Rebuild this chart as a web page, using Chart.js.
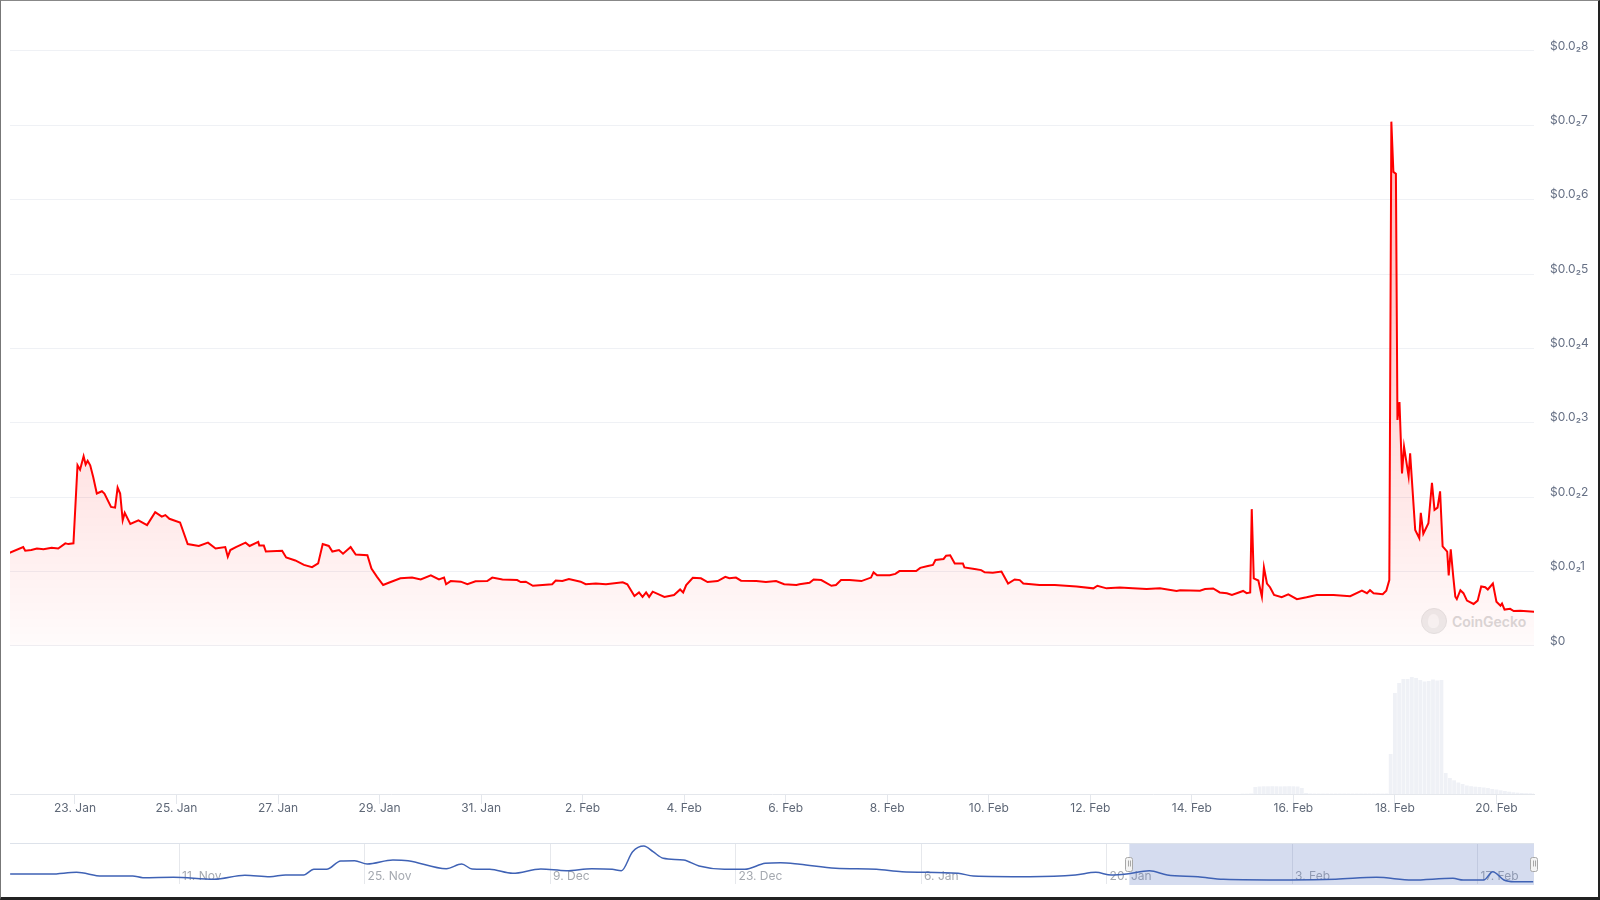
<!DOCTYPE html>
<html>
<head>
<meta charset="utf-8">
<title>Price chart</title>
<script src="https://cdn.jsdelivr.net/npm/chart.js@4.4.0/dist/chart.umd.min.js"></script>
<style>
    html, body { margin: 0; padding: 0; background: #fff; }
    #page { position: relative; width: 1600px; height: 900px; overflow: hidden; }
    #main { position: absolute; left: 0; top: 0; }
    #nav { position: absolute; left: 0; top: 843px; }
    .frame {
        position: absolute; left: 0; top: 0; width: 1600px; height: 900px; box-sizing: border-box;
        border-top: 1px solid #888; border-left: 1px solid #777;
        border-right: 2px solid #222; border-bottom: 3px solid #222;
        pointer-events: none; z-index: 10;
    }
    .watermark {
        position: absolute; left: 1421px; top: 607px; height: 28px;
        display: flex; align-items: center; gap: 5px;
        font-family: Inter, "Noto Sans", sans-serif; font-weight: 600; font-size: 14px; color: #d9d9d9;
    }
    .watermark .logo {
        width: 26px; height: 26px; border-radius: 50%; background: #ededed; border: 1px solid #e4e4e4;
        position: relative; box-sizing: border-box;
    }
    .watermark .logo::after {
        content: ""; position: absolute; left: 6px; top: 5px; width: 11px; height: 14px;
        border-radius: 50% 50% 40% 40%; background: #f7f7f7;
    }
</style>
</head>
<body>
<div id="page">
    <div class="watermark"><div class="logo"></div><span>CoinGecko</span></div>
    <canvas id="main" width="1600" height="830"></canvas>
    <canvas id="nav" width="1600" height="57"></canvas>
    <div class="frame"></div>
</div>
<script>
// ===== Données =====
// jours comptés depuis le 1er janvier (22 = 23 Jan, 50 = 20 Feb)
// prix en milliers de dollar ($0.0₂1 = 0.001)
const priceDays = [
    20.70, 20.98, 21.02, 21.14, 21.25, 21.38, 21.54, 21.67, 21.81, 21.87, 21.97,
    22.05, 22.10, 22.17, 22.21, 22.25, 22.30, 22.36, 22.43, 22.53, 22.58, 22.71, 22.79, 22.84, 22.89, 22.94, 22.98,
    23.09, 23.25, 23.42, 23.58, 23.71, 23.78, 23.86, 24.07, 24.22, 24.44, 24.62, 24.77, 24.96,
    25.01, 25.06, 25.17, 25.36, 25.44, 25.61, 25.63, 25.72, 25.76, 26.08, 26.16, 26.34, 26.51, 26.67, 26.79, 26.88,
    27.00, 27.07, 27.20, 27.28, 27.43, 27.53, 27.76, 27.84, 27.95, 28.07, 28.18, 28.41, 28.64, 28.81,
    29.01, 29.17, 29.27, 29.31, 29.40, 29.60, 29.73, 29.89, 30.12, 30.22, 30.42, 30.71, 30.78, 30.88,
    31.02, 31.40, 31.47, 31.60, 31.73, 31.96, 32.06, 32.26, 32.46, 32.79, 32.88,
    33.02, 33.11, 33.18, 33.25, 33.31, 33.38, 33.51, 33.61, 33.80, 33.92, 33.98, 34.04, 34.17, 34.33, 34.46, 34.66, 34.81, 34.89,
    35.02, 35.12, 35.42, 35.61, 35.81, 35.97, 36.21, 36.27, 36.47, 36.55, 36.70, 36.90, 36.99,
    37.09, 37.26, 37.49, 37.68, 37.73, 37.80, 38.05, 38.16, 38.24, 38.57, 38.65, 38.80, 38.90, 38.95,
    39.11, 39.16, 39.24, 39.33, 39.49, 39.52, 39.72, 39.85, 39.92, 40.08, 40.25, 40.38, 40.51, 40.61, 40.68,
    41.00, 41.30, 41.73, 42.06, 42.14, 42.32, 42.58, 42.84, 43.11, 43.37, 43.70, 43.77, 44.16, 44.26, 44.42, 44.55, 44.69, 44.79,
    45.01, 45.08, 45.15, 45.18, 45.22, 45.31, 45.38, 45.42, 45.48, 45.54, 45.62, 45.77, 45.90, 46.07, 46.26, 46.46, 46.79,
    47.12, 47.35, 47.45, 47.51, 47.58, 47.76, 47.83, 47.89, 47.93, 47.97, 48.02, 48.05, 48.09, 48.14, 48.18, 48.27, 48.30,
    48.40, 48.48, 48.51, 48.56, 48.66, 48.73, 48.78, 48.84, 48.89, 48.94, 49.03, 49.06, 49.10, 49.15, 49.19, 49.22,
    49.29, 49.35, 49.42, 49.55, 49.63, 49.70, 49.78, 49.83, 49.93, 50.00, 50.08, 50.11, 50.16, 50.27, 50.34, 50.47, 50.75
];
const priceValues = [
    1.25, 1.33, 1.28, 1.29, 1.31, 1.30, 1.32, 1.31, 1.38, 1.37, 1.38,
    2.43, 2.37, 2.55, 2.44, 2.49, 2.43, 2.27, 2.05, 2.08, 2.05, 1.87, 1.86, 2.13, 2.05, 1.69, 1.79,
    1.64, 1.69, 1.625, 1.80, 1.74, 1.76, 1.71, 1.66, 1.37, 1.345, 1.39, 1.31, 1.33,
    1.20, 1.29, 1.33, 1.39, 1.345, 1.40, 1.35, 1.35, 1.27, 1.28, 1.19, 1.15, 1.09, 1.06, 1.11, 1.37,
    1.345, 1.27, 1.29, 1.24, 1.33, 1.23, 1.22, 1.04, 0.93, 0.82, 0.85, 0.91, 0.92, 0.895,
    0.95, 0.895, 0.92, 0.83, 0.873, 0.865, 0.83, 0.87, 0.873, 0.92, 0.895, 0.886, 0.86, 0.865,
    0.81, 0.83, 0.88, 0.873, 0.90, 0.865, 0.83, 0.84, 0.83, 0.857, 0.83,
    0.672, 0.72, 0.66, 0.72, 0.66, 0.73, 0.69, 0.66, 0.685, 0.76, 0.72, 0.82, 0.918, 0.91, 0.86, 0.873, 0.93, 0.91,
    0.92, 0.878, 0.873, 0.86, 0.873, 0.83, 0.82, 0.83, 0.85, 0.895, 0.886, 0.81, 0.82,
    0.886, 0.886, 0.873, 0.92, 0.99, 0.95, 0.95, 0.97, 1.007, 1.007, 1.05, 1.075, 1.09, 1.156,
    1.17, 1.215, 1.22, 1.11, 1.11, 1.057, 1.035, 1.02, 0.99, 0.985, 1.0, 0.84, 0.895, 0.886, 0.84,
    0.82, 0.82, 0.80, 0.775, 0.81, 0.775, 0.785, 0.775, 0.766, 0.775, 0.74, 0.75, 0.744, 0.766, 0.774, 0.72, 0.71, 0.686,
    0.74, 0.71, 0.72, 1.84, 0.91, 0.88, 0.663, 1.057, 0.84, 0.79, 0.686, 0.655, 0.695, 0.63, 0.655, 0.686, 0.686,
    0.67, 0.744, 0.71, 0.75, 0.71, 0.695, 0.744, 0.887, 7.05, 6.375, 6.35, 3.04, 3.28, 2.32, 2.68, 2.28, 2.59,
    1.56, 1.45, 1.79, 1.51, 1.65, 2.195, 1.83, 1.86, 2.08, 1.34, 1.27, 0.95, 1.30, 0.93, 0.663, 0.63,
    0.75, 0.71, 0.61, 0.565, 0.61, 0.80, 0.79, 0.76, 0.84, 0.596, 0.542, 0.57, 0.49, 0.50, 0.47, 0.475, 0.46
];

// volume (indice relatif), un échantillon toutes les 2 heures à partir du jour 45
const volStartDay = 45;
const volStepDays = 1 / 12;
const volValues = [
    0.3, 0.3, 0.5, 7, 7.5, 7.7, 7.7, 7.8, 7.7, 7.6, 7.7, 7.8, 7.7, 7.5, 6,
    1, 0.5, 0.4, 0.4, 0.4, 0.4, 0.4, 0.4, 0.4, 0.4, 0.4, 0.4, 0.4, 0.4, 0.4, 0.4, 0.4, 0.4, 0.4, 0.5,
    40, 101, 111, 115, 115, 117, 116, 114, 112.5, 113, 114.5, 113.5, 114,
    21, 16, 13.7, 11.5, 10, 8.5, 7.8, 7.3, 7, 6.5, 6, 5, 4.5, 3.7, 3, 2.3, 1.7, 1.3, 1, 0.8, 0.7, 0.6
];

const xTickDays = [22, 24, 26, 28, 30, 32, 34, 36, 38, 40, 42, 44, 46, 48, 50];
const xTickLabels = ["23. Jan", "25. Jan", "27. Jan", "29. Jan", "31. Jan", "2. Feb", "4. Feb", "6. Feb",
    "8. Feb", "10. Feb", "12. Feb", "14. Feb", "16. Feb", "18. Feb", "20. Feb"];
const priceTicks = [0, 1, 2, 3, 4, 5, 6, 7, 8];
const priceTickLabels = ["$0", "$0.0₂1", "$0.0₂2", "$0.0₂3", "$0.0₂4", "$0.0₂5", "$0.0₂6", "$0.0₂7", "$0.0₂8"];

// navigateur (historique plus long)
const navDays = [
    -63.75, -60.67, -58.74, -56.82, -54.5, -53.73, -51.42, -48.37, -46.03, -44.14, -42.96, -41.6,
    -40.83, -39.87, -38.8, -37.75, -36.8, -34.86, -33.72, -30.83, -29.67, -28.89, -27.55, -25.82,
    -23.7, -21.78, -19.85, -18.31, -17.62, -16.77, -15.92, -15.23, -14.46, -12.92, -11.76, -9.84,
    -8.3, -6.76, -5.6, -4.14, -1.45, 1.63, 3.56, 7.8, 8.95, 13.19, 16.65, 18.19, 19.35, 20.5,
    22.24, 23.58, 25.9, 27.82, 32.83, 36.29, 39.37, 42.06, 45.14, 45.92, 47.46, 48.15, 48.99, 49.77, 51.2
];
const navValues = [
    2.07, 2.07, 2.41, 1.67, 1.67, 1.33, 1.41, 1.01, 1.81, 1.53, 1.87, 1.87,
    3.01, 3.01, 4.67, 4.73, 4.07, 4.87, 4.73, 3.13, 4.07, 3.07, 3.01, 2.21,
    3.07, 2.73, 3.13, 3.01, 2.73, 6.53, 7.67, 6.53, 5.21, 4.87, 3.67, 3.01,
    3.01, 4.21, 4.33, 4.01, 3.21, 3.01, 2.53, 2.21, 1.67, 1.53, 1.87, 2.41, 1.87, 2.07,
    2.73, 1.87, 1.53, 1.01, 0.87, 1.01, 1.41, 0.87, 1.21, 0.87, 0.87, 2.53, 0.87, 0.53, 0.53
];
const navTickDays = [-51, -37, -23, -9, 5, 19, 33, 47];
const navTickLabels = ["11. Nov", "25. Nov", "9. Dec", "23. Dec", "6. Jan", "20. Jan", "3. Feb", "17. Feb"];
const navSelection = [20.72, 51.26];

// ===== Réglages =====
Chart.defaults.font.family = 'Inter, "Noto Sans", sans-serif';
Chart.defaults.font.size = 12;

function priceFill(context) {
    const chart = context.chart;
    const area = chart.chartArea;
    if (!area) {
        return "rgba(255, 0, 0, 0.05)";
    }
    const y = chart.scales.y;
    const g = chart.ctx.createLinearGradient(0, y.getPixelForValue(7), 0, y.getPixelForValue(0));
    g.addColorStop(0, "rgba(255, 0, 0, 0.28)");
    g.addColorStop(1, "rgba(255, 0, 0, 0.015)");
    return g;
}

// ===== Graphique principal =====
new Chart(document.getElementById("main"), {
    data: {
        datasets: [
            {
                type: "line",
                label: "Prix",
                data: priceDays.map((d, i) => ({ x: d, y: priceValues[i] })),
                yAxisID: "y",
                borderColor: "#ff0000",
                borderWidth: 2,
                pointRadius: 0,
                tension: 0,
                fill: { value: 0 },
                backgroundColor: priceFill,
                order: 1
            },
            {
                type: "bar",
                label: "Volume",
                data: volValues.map((v, i) => ({ x: volStartDay + i * volStepDays, y: v })),
                yAxisID: "yVol",
                backgroundColor: "#eff1f6",
                categoryPercentage: 1,
                barPercentage: 0.9,
                order: 2
            }
        ]
    },
    options: {
        responsive: false,
        animation: false,
        layout: { padding: { top: 15, left: 10, right: 0, bottom: 0 } },
        plugins: {
            legend: { display: false },
            tooltip: { enabled: false }
        },
        scales: {
            x: {
                type: "linear",
                min: 20.72,
                max: 50.74,
                offset: false,
                afterBuildTicks: (s) => { s.ticks = xTickDays.map(v => ({ value: v })); },
                afterFit: (s) => { s.height = 36; },
                grid: { offset: false, drawOnChartArea: false, drawTicks: true, tickLength: 10, color: "#e4e7ec" },
                border: { display: true, color: "#e4e7ec" },
                ticks: {
                    padding: -3,
                    color: "#5f6877",
                    autoSkip: false,
                    maxRotation: 0,
                    callback: (v, i) => xTickLabels[i]
                }
            },
            y: {
                position: "right",
                min: -1.99,
                max: 8.484,
                afterBuildTicks: (s) => { s.ticks = priceTicks.map(v => ({ value: v })); },
                afterFit: (s) => { s.width = 66; },
                grid: { color: "#eff1f5", drawTicks: true, tickLength: 16, tickColor: "rgba(0,0,0,0)" },
                border: { display: false },
                ticks: {
                    padding: 0,
                    labelOffset: -5,
                    crossAlign: "near",
                    color: "#667085",
                    callback: (v, i) => priceTickLabels[i]
                }
            },
            yVol: {
                display: false,
                min: 0,
                max: 779
            }
        }
    }
});

// ===== Navigateur =====
// les libellés du navigateur sont dessinés à l'intérieur de la zone (comme l'original)
const navDecor = {
    id: "navDecor",
    beforeDatasetsDraw(chart) {
        const { ctx, chartArea, scales } = chart;
        ctx.save();
        ctx.font = '12px Inter, "Noto Sans", sans-serif';
        ctx.fillStyle = "#a5a9b0";
        ctx.textAlign = "left";
        ctx.textBaseline = "middle";
        navTickDays.forEach((d, i) => {
            ctx.fillText(navTickLabels[i], scales.x.getPixelForValue(d) + 3, chartArea.top + 33);
        });

        const x0 = scales.x.getPixelForValue(navSelection[0]);
        const x1 = Math.min(scales.x.getPixelForValue(navSelection[1]), chartArea.right);
        ctx.fillStyle = "rgba(80, 110, 190, 0.24)";
        ctx.fillRect(x0, chartArea.top, x1 - x0, chartArea.bottom - chartArea.top + 1);
        ctx.strokeStyle = "#dde2ea";
        ctx.lineWidth = 1;
        ctx.beginPath();
        ctx.moveTo(chartArea.left, chartArea.top + 0.5);
        ctx.lineTo(chartArea.right, chartArea.top + 0.5);
        ctx.stroke();
        ctx.restore();
    },
    afterDatasetsDraw(chart) {
        const { ctx, chartArea, scales } = chart;
        const mid = (chartArea.top + chartArea.bottom) / 2;
        const edges = [
            scales.x.getPixelForValue(navSelection[0]),
            Math.min(scales.x.getPixelForValue(navSelection[1]), chartArea.right)
        ];
        ctx.save();
        edges.forEach(x => {
            ctx.fillStyle = "#f4f4f4";
            ctx.strokeStyle = "#a8a8a8";
            ctx.lineWidth = 1;
            ctx.beginPath();
            ctx.roundRect(Math.round(x - 4) + 0.5, Math.round(mid - 7) + 0.5, 7, 14, 2);
            ctx.fill();
            ctx.stroke();
            ctx.beginPath();
            ctx.moveTo(Math.round(x - 1) + 0.5, mid - 3);
            ctx.lineTo(Math.round(x - 1) + 0.5, mid + 3);
            ctx.moveTo(Math.round(x + 1) + 0.5, mid - 3);
            ctx.lineTo(Math.round(x + 1) + 0.5, mid + 3);
            ctx.stroke();
        });
        ctx.restore();
    }
};

new Chart(document.getElementById("nav"), {
    type: "line",
    data: {
        datasets: [{
            data: navDays.map((d, i) => ({ x: d, y: navValues[i] })),
            borderColor: "#3f62b5",
            borderWidth: 1.5,
            pointRadius: 0,
            cubicInterpolationMode: "monotone",
            fill: false
        }]
    },
    options: {
        responsive: false,
        animation: false,
        layout: { padding: { top: 0, left: 10, right: 66, bottom: 0 } },
        plugins: {
            legend: { display: false },
            tooltip: { enabled: false }
        },
        scales: {
            x: {
                type: "linear",
                min: -63.76,
                max: 51.26,
                afterBuildTicks: (s) => { s.ticks = navTickDays.map(v => ({ value: v })); },
                afterFit: (s) => { s.height = 16; },
                grid: { color: "#e6e8ec", drawTicks: false },
                border: { display: false },
                ticks: { display: false }
            },
            y: {
                display: false,
                min: 0.07,
                max: 8.27
            }
        }
    },
    plugins: [navDecor]
});
</script>
</body>
</html>
